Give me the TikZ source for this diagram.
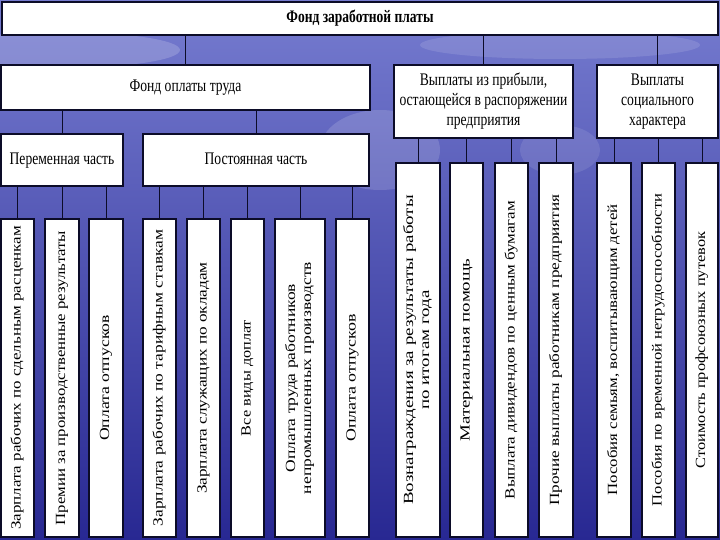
\documentclass[tikz,border=0pt]{standalone}
\usepackage{fontspec}
\setmainfont{Liberation Serif}
\definecolor{bgtop}{RGB}{118,124,208}
\definecolor{bgmid}{RGB}{82,88,196}
\definecolor{bgbot}{RGB}{40,40,146}
\definecolor{edge}{RGB}{12,12,40}
\newcommand\hs[1]{\scalebox{1}[1.3]{\begin{tabular}{@{}c@{}}#1\end{tabular}}}
\newcommand\vs[2]{\scalebox{#1}[1]{\begin{tabular}{@{}c@{}}#2\end{tabular}}}
\begin{document}
\begin{tikzpicture}[x=1pt,y=-1pt,
  box/.style={draw=edge, fill=white, line width=1.3pt, inner sep=0pt, outer sep=0pt},
  htext/.style={inner sep=0pt, font=\fontsize{13.6}{15.6}\selectfont, align=center},
  vtext/.style={inner sep=0pt, rotate=90, font=\fontsize{14}{16}\selectfont, align=center},
  conn/.style={draw=edge, line width=0.8pt}]
\useasboundingbox (0,0) rectangle (720,540);
\shade[top color=bgtop, middle color=bgmid, bottom color=bgbot] (0,0) rectangle (720,540);
\fill[white, opacity=0.18] (60,50) ellipse (120 and 18);
\fill[white, opacity=0.12] (560,45) ellipse (140 and 14);
\fill[white, opacity=0.15] (380,150) ellipse (60 and 40);
\fill[white, opacity=0.10] (560,150) ellipse (40 and 25);

% level 0
\node[box, minimum width=716pt, minimum height=33pt] (top) at (360,18.5) {};
\node[htext, font=\fontsize{13.5}{15.5}\selectfont\bfseries] (topt) at (top) {\hs{Фонд заработной платы}};

% level 1
\node[box, minimum width=369pt, minimum height=45pt] (fot) at (185.5,87.5) {};
\node[htext] (fott) at (fot) {\hs{Фонд оплаты труда}};
\node[box, minimum width=179pt, minimum height=73pt] (prib) at (483.5,101.5) {};
\node[htext] (pribt) at (prib) {\hs{Выплаты из прибыли,\\остающейся в распоряжении\\предприятия}};
\node[box, minimum width=121pt, minimum height=73pt] (soc) at (657.5,101.5) {};
\node[htext] (soct) at (soc) {\hs{Выплаты\\социального\\характера}};

% level 2
\node[box, minimum width=122pt, minimum height=52pt] (per) at (62,160) {};
\node[htext] (pert) at (per) {\hs{Переменная часть}};
\node[box, minimum width=226pt, minimum height=52pt] (post) at (256,160) {};
\node[htext] (postt) at (post) {\hs{Постоянная часть}};

% leaves under Фонд оплаты труда
\node[box, minimum width=33pt, minimum height=318pt] (b1) at (17.5,378) {};
\node[vtext] (t1) at (b1) {\vs{1.21}{Зарплата рабочих по сдельным расценкам}};
\node[box, minimum width=34pt, minimum height=318pt] (b2) at (62,378) {};
\node[vtext] (t2) at (b2) {\vs{1.2}{Премии за производственные результаты}};
\node[box, minimum width=34pt, minimum height=318pt] (b3) at (106,378) {};
\node[vtext] (t3) at (b3) {\vs{1.26}{Оплата отпусков}};
\node[box, minimum width=33pt, minimum height=318pt] (b4) at (159.5,378) {};
\node[vtext] (t4) at (b4) {\vs{1.24}{Зарплата рабочих по тарифным ставкам}};
\node[box, minimum width=33pt, minimum height=318pt] (b5) at (203.5,378) {};
\node[vtext] (t5) at (b5) {\vs{1.23}{Зарплата служащих по окладам}};
\node[box, minimum width=33pt, minimum height=318pt] (b6) at (247.5,378) {};
\node[vtext] (t6) at (b6) {\vs{1.16}{Все виды доплат}};
\node[box, minimum width=50pt, minimum height=318pt] (b7) at (300,378) {};
\node[vtext] (t7) at (b7) {\vs{1.25}{Оплата труда работников\\непромышленных производств}};
\node[box, minimum width=33pt, minimum height=318pt] (b8) at (352.5,378) {};
\node[vtext] (t8) at (b8) {\vs{1.28}{Оплата отпусков}};

% leaves under profits
\node[box, minimum width=44pt, minimum height=374pt] (b9) at (418,350) {};
\node[vtext] (t9) at (b9) {\vs{1.35}{Вознаграждения за результаты работы\\по итогам года}};
\node[box, minimum width=33pt, minimum height=374pt] (b10) at (466.5,350) {};
\node[vtext] (t10) at (b10) {\vs{1.35}{Материальная помощь}};
\node[box, minimum width=33pt, minimum height=374pt] (b11) at (511.5,350) {};
\node[vtext] (t11) at (b11) {\vs{1.21}{Выплата дивидендов по ценным бумагам}};
\node[box, minimum width=34pt, minimum height=374pt] (b12) at (556,350) {};
\node[vtext] (t12) at (b12) {\vs{1.23}{Прочие выплаты работникам предприятия}};

% leaves under social
\node[box, minimum width=34pt, minimum height=374pt] (b13) at (614,350) {};
\node[vtext] (t13) at (b13) {\vs{1.2}{Пособия семьям, воспитывающим детей}};
\node[box, minimum width=33pt, minimum height=374pt] (b14) at (658.5,350) {};
\node[vtext] (t14) at (b14) {\vs{1.18}{Пособия по временной нетрудоспособности}};
\node[box, minimum width=32pt, minimum height=374pt] (b15) at (702,350) {};
\node[vtext] (t15) at (b15) {\vs{1.17}{Стоимость профсоюзных путевок}};

% connectors
\foreach \c in {fot,prib,soc} \draw[conn] (\c.north |- top.south) -- (\c.north);
\foreach \c in {per,post} \draw[conn] (\c.north |- fot.south) -- (\c.north);
\foreach \c in {b1,b2,b3} \draw[conn] (\c.north |- per.south) -- (\c.north);
\foreach \c in {b4,b5,b6,b7,b8} \draw[conn] (\c.north |- post.south) -- (\c.north);
\foreach \c in {b9,b10,b11,b12} \draw[conn] (\c.north |- prib.south) -- (\c.north);
\foreach \c in {b13,b14,b15} \draw[conn] (\c.north |- soc.south) -- (\c.north);
\end{tikzpicture}
\end{document}
